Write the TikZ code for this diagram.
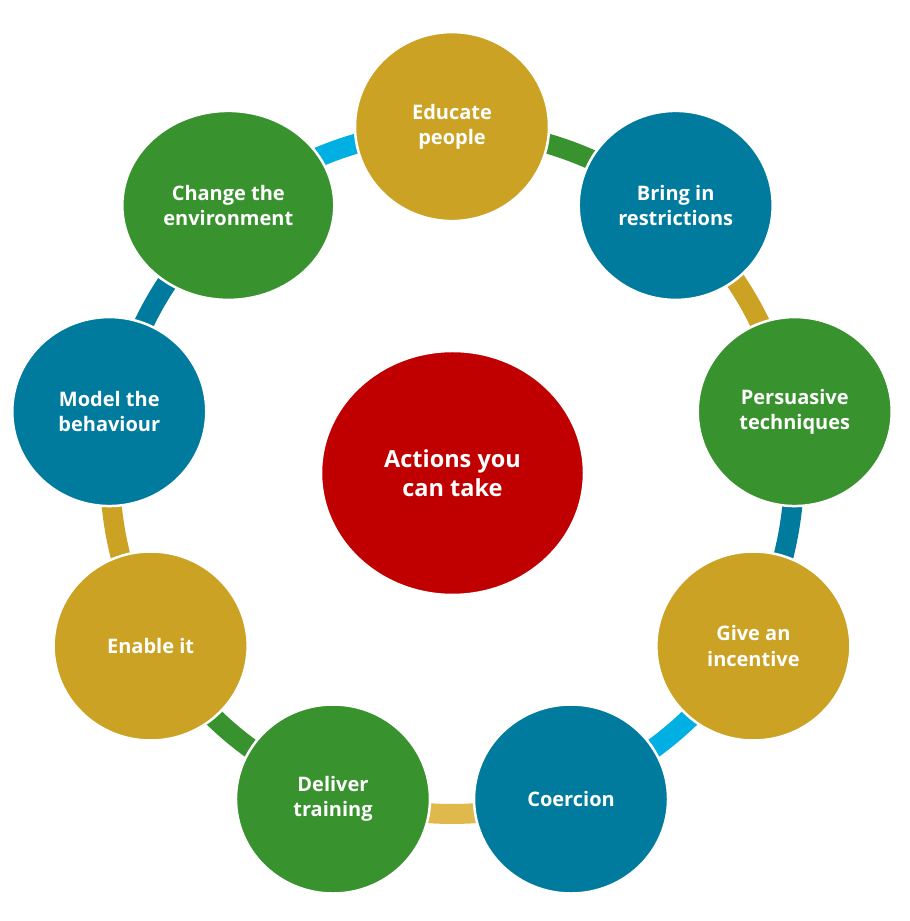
\documentclass[tikz,border=0pt]{standalone}
\usepackage{fontspec}
\setmainfont{Open Sans}[UprightFont={* Bold}, BoldFont={* Bold}]
\usetikzlibrary{shapes.geometric}
\definecolor{cgold}{HTML}{CBA223}
\definecolor{cgreen}{HTML}{38922E}
\definecolor{cteal}{HTML}{007B9E}
\definecolor{ccyan}{HTML}{00B0E2}
\definecolor{clgold}{HTML}{E0B94C}
\definecolor{cred}{HTML}{C00000}
\tikzset{
  item/.style={ellipse, draw=white, line width=2.5pt, inner sep=0pt,
    minimum width=194pt, minimum height=189pt, text=white, align=center,
    font=\fontsize{20}{25.5}\selectfont},
  hub/.style={ellipse, draw=white, line width=2.5pt, inner sep=0pt,
    minimum width=263pt, minimum height=244pt, fill=cred, text=white, align=center,
    font=\fontsize{23.5}{29}\selectfont},
  link/.style={line width=20pt, bend left=20, looseness=0.88}
}
\begin{document}
\begin{tikzpicture}[x=1pt,y=1pt]
\useasboundingbox (0,0) rectangle (910,921);
\coordinate (c) at (452,449);
% ring points
\path (c) ++(90:342) coordinate (r1);
\path (c) ++(50:342) coordinate (r2);
\path (c) ++(10:342) coordinate (r3);
\path (c) ++(-30:342) coordinate (r4);
\path (c) ++(-70:342) coordinate (r5);
\path (c) ++(-110:342) coordinate (r6);
\path (c) ++(-150:342) coordinate (r7);
\path (c) ++(170:342) coordinate (r8);
\path (c) ++(130:342) coordinate (r9);
% connectors
\draw[link, cgreen] (r1) to (r2);
\draw[link, cgold] (r2) to (r3);
\draw[link, cteal] (r3) to (r4);
\draw[link, ccyan] (r4) to (r5);
\draw[link, clgold] (r5) to (r6);
\draw[link, cgreen] (r6) to (r7);
\draw[link, cgold] (r7) to (r8);
\draw[link, cteal] (r8) to (r9);
\draw[link, ccyan] (r9) to (r1);
% nodes
\node[hub] (hub) at (452.5,448) {Actions you\\can take};
\path (c) ++(50:348) node[item, fill=cteal] (restr) {Bring in\\restrictions};
\path (c) ++(10:348) node[item, fill=cgreen] (pers) {Persuasive\\techniques};
\path (c) ++(-30:348) node[item, fill=cgold] (incent) {Give an\\incentive};
\path (c) ++(-70:348) node[item, fill=cteal] (coerc) {Coercion};
\path (c) ++(-110:348) node[item, fill=cgreen] (train) {Deliver\\training};
\path (c) ++(-150:348) node[item, fill=cgold] (enable) {Enable it};
\path (c) ++(170:348) node[item, fill=cteal] (model) {Model the\\behaviour};
\path (c) ++(130:348) node[item, fill=cgreen, minimum width=212pt] (env) {Change the\\environment};
\path (c) ++(90:345.4) node[item, fill=cgold] (educ) {Educate\\people};
\end{tikzpicture}
\end{document}
